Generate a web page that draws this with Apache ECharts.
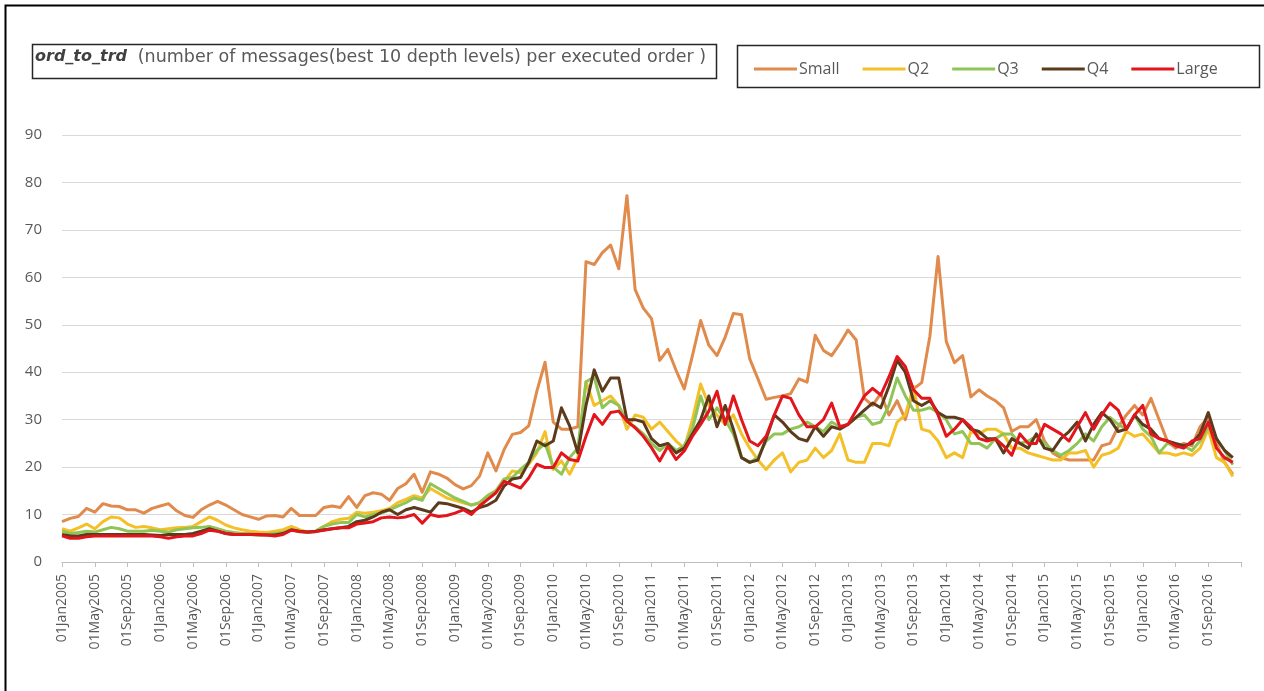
<!DOCTYPE html>
<html>
<head>
<meta charset="utf-8">
<script src="https://cdn.jsdelivr.net/npm/echarts@6/dist/echarts.min.js"></script>
<style>
  html, body { margin: 0; padding: 0; background: #fff; }
  #chart { width: 1264px; height: 691px; }
</style>
</head>
<body>
<div id="chart"></div>
<script>
// monthly observations, Jan 2005 .. Dec 2016 (one row per year)
var years = [2005, 2006, 2007, 2008, 2009, 2010, 2011, 2012, 2013, 2014, 2015, 2016];
var monthNames = ['Jan','Feb','Mar','Apr','May','Jun','Jul','Aug','Sep','Oct','Nov','Dec'];

var small = [
  8.5, 9.2, 9.6, 11.3, 10.5, 12.3, 11.8, 11.7, 11.0, 11.0, 10.3, 11.3,
  11.8, 12.3, 10.8, 9.8, 9.4, 11.0, 12.0, 12.8, 12.0, 11.0, 10.0, 9.5,
  9.0, 9.7, 9.8, 9.5, 11.3, 9.8, 9.8, 9.8, 11.5, 11.8, 11.5, 13.8,
  11.5, 14.0, 14.6, 14.3, 13.0, 15.5, 16.5, 18.5, 14.7, 19.0, 18.5, 17.7,
  16.3, 15.4, 16.1, 18.1, 23.0, 19.2, 23.7, 26.9, 27.3, 28.7, 36.0, 42.1,
  29.5, 28.0, 28.0, 28.5, 63.3, 62.7, 65.2, 66.8, 61.8, 77.2, 57.4, 53.5,
  51.3, 42.5, 44.8, 40.4, 36.5, 43.5, 50.9, 45.7, 43.5, 47.4, 52.4, 52.1,
  42.8, 38.6, 34.3, 34.7, 35.0, 35.5, 38.6, 37.9, 47.8, 44.6, 43.5, 46.0,
  48.9, 46.8, 34.5, 33.0, 35.5, 31.0, 34.0, 30.0, 36.5, 37.8, 47.6, 64.4,
  46.5, 42.0, 43.5, 34.8, 36.3, 35.0, 34.0, 32.5, 27.5, 28.5, 28.5, 30.0,
  25.5, 23.0, 22.0, 21.5, 21.5, 21.5, 21.5, 24.5, 25.0, 28.5, 31.0, 33.0,
  31.0, 34.5, 30.0, 25.5, 24.0, 25.0, 24.5, 28.5, 30.5, 25.0, 21.0, 18.5
];

var q2 = [
  7.0, 6.5, 7.2, 8.0, 7.0, 8.5, 9.5, 9.3, 8.0, 7.3, 7.5, 7.2,
  6.8, 7.0, 7.2, 7.3, 7.5, 8.5, 9.5, 8.8, 7.8, 7.2, 6.8, 6.5,
  6.3, 6.2, 6.5, 6.8, 7.5, 6.8, 6.3, 6.5, 7.5, 8.5, 9.0, 9.2,
  10.5, 10.3, 10.5, 10.8, 11.3, 12.5, 13.2, 14.0, 13.5, 15.5, 14.5, 13.5,
  13.0, 12.5, 12.0, 12.5, 14.0, 15.0, 17.0, 19.2, 18.8, 20.6, 23.0, 27.5,
  19.5, 21.3, 18.5, 22.0, 38.0, 33.0, 34.0, 35.0, 33.0, 28.0, 31.0, 30.5,
  28.0, 29.5, 27.5, 25.5, 24.0, 30.0, 37.5, 33.0, 31.0, 29.0, 31.0, 27.0,
  24.0, 21.5, 19.5, 21.5, 23.0, 19.0, 21.0, 21.5, 24.0, 22.0, 23.5, 27.0,
  21.5, 21.0, 21.0, 25.0, 25.0, 24.5, 29.5, 31.0, 37.0, 28.0, 27.5, 25.5,
  22.0, 23.0, 22.0, 27.5, 27.0, 28.0, 28.0, 27.0, 24.0, 24.0, 23.0, 22.5,
  22.0, 21.5, 21.5, 23.0, 23.0, 23.5, 20.0, 22.5, 23.0, 24.0, 27.5, 26.5,
  27.0, 25.0, 23.0, 23.0, 22.5, 23.0, 22.5, 24.0, 28.0, 22.0, 21.0, 18.0
];

var q3 = [
  6.5, 6.0, 6.2, 6.5, 6.3, 6.8, 7.3, 7.0, 6.5, 6.5, 6.5, 6.7,
  6.5, 6.3, 6.8, 7.0, 7.2, 7.3, 7.5, 7.0, 6.5, 6.2, 6.0, 6.0,
  5.8, 5.8, 6.0, 6.2, 6.8, 6.5, 6.2, 6.5, 7.5, 8.0, 8.3, 8.3,
  10.0, 9.5, 10.0, 10.3, 11.0, 11.8, 12.5, 13.5, 13.0, 16.5, 15.5, 14.5,
  13.5, 12.8, 12.0, 12.5, 14.0, 15.0, 17.5, 17.8, 19.5, 21.0, 23.5, 25.0,
  20.0, 18.5, 22.0, 24.0, 38.0, 39.0, 32.5, 34.0, 33.0, 29.5, 28.5, 27.0,
  25.0, 23.5, 25.0, 23.5, 24.5, 28.0, 35.0, 30.0, 32.5, 30.0, 27.0, 22.0,
  21.0, 22.0, 25.5, 27.0, 27.0, 28.0, 28.5, 29.5, 28.5, 27.5, 29.5, 28.5,
  29.0, 30.5, 31.0, 29.0, 29.5, 33.0, 38.8, 35.0, 32.0, 32.0, 32.5, 31.5,
  30.0, 27.0, 27.5, 25.0, 25.0, 24.0, 26.0, 27.0, 27.0, 25.0, 25.5, 26.5,
  25.0, 23.5, 22.5, 23.5, 25.0, 27.0, 25.5, 28.5, 30.5, 29.0, 28.0, 31.0,
  28.0, 26.5, 23.0, 25.0, 24.5, 24.5, 23.5, 25.5, 28.5, 26.0, 23.5, 20.5
];

var q4 = [
  5.8, 5.5, 5.5, 5.8, 5.8, 5.8, 5.8, 5.8, 5.8, 5.8, 5.8, 5.7,
  5.6, 5.8, 5.8, 5.8, 6.0, 6.5, 7.0, 6.5, 6.0, 5.8, 5.8, 5.8,
  5.7, 5.7, 5.7, 6.0, 6.8, 6.5, 6.3, 6.5, 6.8, 7.0, 7.2, 7.5,
  8.5, 8.8, 9.5, 10.5, 11.0, 10.0, 11.0, 11.5, 11.0, 10.5, 12.5, 12.3,
  11.8, 11.3, 10.5, 11.5, 12.0, 13.0, 16.0, 17.5, 17.8, 21.0, 25.5, 24.5,
  25.5, 32.5, 28.7, 23.0, 33.0, 40.5, 36.0, 38.8, 38.8, 30.0, 30.0, 29.5,
  26.0, 24.5, 25.0, 23.0, 24.0, 27.0, 30.0, 35.0, 28.5, 33.0, 28.0, 22.0,
  21.0, 21.5, 26.0, 31.0, 29.5, 27.5, 26.0, 25.5, 28.5, 26.5, 28.5, 28.0,
  29.0, 30.5, 32.0, 33.5, 32.5, 37.0, 42.5, 40.0, 34.0, 33.0, 34.0, 31.5,
  30.5, 30.5, 30.0, 28.0, 27.5, 26.0, 26.0, 23.0, 26.0, 25.0, 24.0, 27.0,
  24.0, 23.5, 26.0, 27.5, 29.5, 25.5, 29.0, 31.5, 30.0, 27.5, 28.0, 31.0,
  29.0, 28.0, 26.0, 25.5, 25.0, 24.5, 25.0, 27.0, 31.5, 26.0, 23.5, 22.0
];

var large = [
  5.5, 5.0, 5.0, 5.3, 5.5, 5.5, 5.5, 5.5, 5.5, 5.5, 5.5, 5.5,
  5.3, 5.0, 5.3, 5.5, 5.5, 6.0, 6.7, 6.5, 6.0, 5.8, 5.8, 5.8,
  5.8, 5.7, 5.5, 5.8, 6.7, 6.4, 6.3, 6.4, 6.7, 7.0, 7.2, 7.2,
  8.0, 8.2, 8.5, 9.3, 9.5, 9.3, 9.5, 10.0, 8.2, 10.0, 9.6, 9.8,
  10.3, 11.0, 10.0, 11.8, 13.2, 14.6, 17.0, 16.3, 15.6, 17.7, 20.6, 19.9,
  19.9, 23.0, 21.6, 21.3, 26.5, 31.1, 29.0, 31.5, 31.8, 29.7, 28.3, 26.5,
  24.1, 21.3, 24.4, 21.6, 23.4, 26.5, 29.0, 31.8, 36.0, 29.0, 35.0, 30.0,
  25.5, 24.5, 26.5, 31.0, 35.0, 34.5, 31.0, 28.5, 28.5, 30.0, 33.5, 28.5,
  29.0, 32.0, 35.0, 36.6, 35.2, 39.0, 43.3, 41.2, 36.3, 34.5, 34.5, 31.0,
  26.5, 28.0, 30.0, 28.5, 26.0, 25.5, 26.0, 24.5, 22.5, 27.0, 25.0, 25.0,
  29.0, 28.0, 27.0, 25.5, 28.5, 31.5, 28.0, 31.0, 33.5, 32.0, 28.0, 31.0,
  33.0, 27.0, 26.0, 25.5, 24.5, 24.0, 25.5, 26.0, 29.5, 24.0, 22.0, 21.0
];

var seriesNames = ['Small', 'Q2', 'Q3', 'Q4', 'Large'];
var seriesColors = ['#e08a4c', '#f4c028', '#8fc456', '#5c3a1c', '#e2141c'];
var yTicks = [0, 10, 20, 30, 40, 50, 60, 70, 80, 90];

// month categories, plus one extra slot (Jan 2017) that closes the axis
var cats = [];
for (var y = 0; y < years.length; y++) {
  for (var m = 0; m < 12; m++) {
    cats.push('01' + monthNames[m] + years[y]);
  }
}
cats.push('01Jan2017');

var chart = echarts.init(document.getElementById('chart'));

var allData = [small, q2, q3, q4, large];
var series = [];
for (var s = 0; s < seriesNames.length; s++) {
  series.push({
    name: seriesNames[s],
    type: 'line',
    data: allData[s],
    symbol: 'none',
    lineStyle: { width: 3, color: seriesColors[s], join: 'round' },
    itemStyle: { color: seriesColors[s] }
  });
}

var option = {
  animation: false,
  backgroundColor: '#fff',
  color: seriesColors,
  grid: { left: 62, right: 23, top: 135, bottom: 129 },
  legend: {
    data: seriesNames,
    left: 749,
    top: 56,
    icon: 'rect',
    itemWidth: 43,
    itemHeight: 3,
    itemGap: 23,
    textStyle: { fontFamily: 'Open Sans', fontSize: 16, color: '#595959', padding: [0, 0, 0, -3] }
  },
  xAxis: {
    type: 'category',
    data: cats,
    boundaryGap: false,
    axisLine: { lineStyle: { color: '#bfbfbf', width: 1 } },
    axisTick: { interval: 3, length: 5, lineStyle: { color: '#bfbfbf' } },
    axisLabel: {
      interval: 3,
      rotate: 90,
      margin: 12,
      fontFamily: 'Open Sans',
      fontSize: 14,
      color: '#595959',
      formatter: function (v, i) { return i >= 144 ? '' : v; }
    },
    splitLine: { show: false }
  },
  yAxis: {
    type: 'value',
    min: yTicks[0],
    max: yTicks[yTicks.length - 1],
    interval: 10,
    axisLine: { show: false },
    axisTick: { show: false },
    axisLabel: { margin: 20, fontFamily: 'Open Sans', fontSize: 15, color: '#595959' },
    splitLine: { lineStyle: { color: '#d9d9d9', width: 1 } }
  },
  graphic: [
    {
      type: 'rect', left: 3, top: 3, silent: true,
      shape: { width: 1300, height: 720 },
      style: { fill: null, stroke: '#000', lineWidth: 2 }
    },
    {
      type: 'rect', left: 30, top: 42, silent: true,
      shape: { width: 684, height: 34 },
      style: { fill: null, stroke: '#262626', lineWidth: 1.5 }
    },
    {
      type: 'text', left: 35, top: 48, silent: true,
      style: {
        text: '{b|ord_to_trd}  {r|(number of messages(best 10 depth levels) per executed order )}',
        fontFamily: 'DejaVu Sans',
        fontSize: 17,
        fill: '#595959',
        rich: {
          b: { fontFamily: 'DejaVu Sans', fontSize: 16, fontWeight: 'bold', fontStyle: 'italic', fill: '#404040' },
          r: { fontFamily: 'DejaVu Sans', fontSize: 17.5, fill: '#595959' }
        }
      }
    },
    {
      type: 'rect', left: 735, top: 43, silent: true,
      shape: { width: 522, height: 42 },
      style: { fill: null, stroke: '#262626', lineWidth: 1.5 }
    }
  ],
  series: series
};

chart.setOption(option);
</script>
</body>
</html>
